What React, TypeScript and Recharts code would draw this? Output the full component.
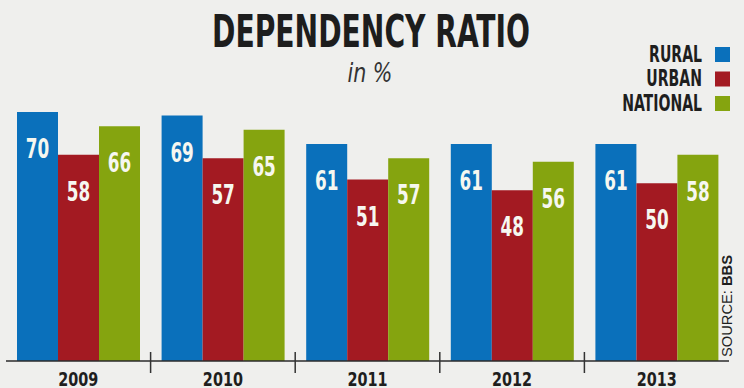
import { Bar, BarChart, Cell, LabelList, Legend, XAxis, YAxis } from "recharts";

const YEARS = ["2009", "2010", "2011", "2012", "2013"];
const RURAL = [70, 69, 61, 61, 61];
const URBAN = [58, 57, 51, 48, 50];
const NATIONAL = [66, 65, 57, 56, 58];

const SERIES = [
  { key: "rural", name: "RURAL", color: "#0a70bb" },
  { key: "urban", name: "URBAN", color: "#a31a22" },
  { key: "national", name: "NATIONAL", color: "#85a40f" },
];

const data = YEARS.map((year, i) => ({
  year,
  rural: RURAL[i],
  urban: URBAN[i],
  national: NATIONAL[i],
}));

const W = 744;
const H = 388;
const MARGIN = { top: 112, right: 15, left: 6, bottom: 0 };
const BAND = (W - MARGIN.left - MARGIN.right) / YEARS.length;
const NARROW = "'Liberation Sans Narrow', 'Arial Narrow', 'DejaVu Sans Condensed', sans-serif";

function YearTick(props: any) {
  const { x, y, payload, index } = props;
  return (
    <g>
      {index > 0 && (
        <line x1={x - BAND / 2} x2={x - BAND / 2} y1={y - 9} y2={y + 12} stroke="#333" strokeWidth={1.5} />
      )}
      <g transform={`translate(${x}, ${y + 25}) scale(0.8, 1)`}>
        <text textAnchor="middle" fontFamily={NARROW} fontWeight={700} fontSize={20} fill="#1e1e1e">
          {payload.value}
        </text>
      </g>
    </g>
  );
}

function ValueLabel(props: any) {
  const { x, y, width, value } = props;
  return (
    <g transform={`translate(${x + width / 2}, ${y + 37}) scale(0.72, 1)`}>
      <text textAnchor="middle" dominantBaseline="central" fontFamily={NARROW} fontWeight={700} fontSize={26} fill="#f6f7f0">
        {value}
      </text>
    </g>
  );
}

function LegendBox({ payload }: any) {
  // keep the series order (recharts sorts the legend by name)
  const items = SERIES.map((s) => (payload || []).find((p: any) => p.dataKey === s.key) || { value: s.name, color: s.color });
  return (
    <svg width={140} height={80}>
      {items.map((p: any, i: number) => (
        <g key={p.value}>
          <g transform={`translate(102, ${14 + i * 24.5}) scale(0.68, 1)`}>
            <text textAnchor="end" dominantBaseline="central" fontFamily={NARROW} fontWeight={700} fontSize={23} fill="#1e1e1e">
              {p.value}
            </text>
          </g>
          <rect x={115} y={7 + i * 24.5} width={15} height={15} fill={p.color} />
        </g>
      ))}
    </svg>
  );
}

export default function App() {
  return (
    <div style={{ position: "absolute", left: 0, top: 0, width: W, height: H, background: "#efefed", overflow: "hidden" }}>
      <BarChart width={W} height={H} data={data} margin={MARGIN} barCategoryGap={11} barGap={0}>
        <XAxis
          dataKey="year"
          height={27}
          tickLine={false}
          tickSize={0}
          tickMargin={0}
          axisLine={{ stroke: "#2b2b2b", strokeWidth: 1.5 }}
          tick={<YearTick />}
          interval={0}
        />
        <YAxis hide domain={[0, 70]} />
        <Legend
          layout="horizontal"
          align="center"
          verticalAlign="middle"
          content={<LegendBox />}
          wrapperStyle={{ position: "absolute", left: 600, top: 40, width: 140, height: 80 }}
        />
        {SERIES.map((s) => (
          <Bar key={s.key} dataKey={s.key} name={s.name} fill={s.color} isAnimationActive={false}>
            {data.map((_, i) => (
              <Cell key={i} fill={s.color} />
            ))}
            <LabelList dataKey={s.key} content={<ValueLabel />} />
          </Bar>
        ))}
      </BarChart>
      <svg width={W} height={H} style={{ position: "absolute", left: 0, top: 0, pointerEvents: "none" }}>
        <text x={212} y={47} textLength={318} lengthAdjust="spacingAndGlyphs" fontFamily={NARROW} fontWeight={700} fontSize={45} fill="#1d1d1d">
          DEPENDENCY RATIO
        </text>
        <g transform="translate(370, 82) scale(0.85, 1)">
          <text textAnchor="middle" fontFamily={NARROW} fontStyle="italic" fontSize={27} fill="#333">
            in %
          </text>
        </g>
        <text
          transform="translate(732, 357) rotate(-90)"
          fontFamily="'Liberation Sans', Arial, sans-serif"
          fontSize={15}
          textLength={102}
          lengthAdjust="spacingAndGlyphs"
          fill="#1e1e1e"
        >
          <tspan>SOURCE: </tspan>
          <tspan fontWeight={700}>BBS</tspan>
        </text>
      </svg>
    </div>
  );
}
